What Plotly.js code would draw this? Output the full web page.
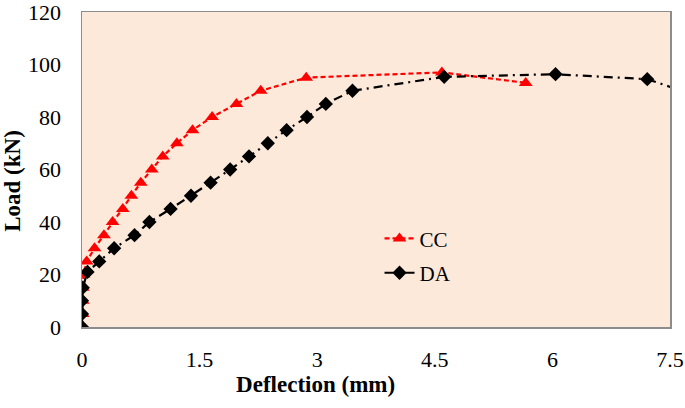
<!DOCTYPE html>
<html>
<head>
<meta charset="utf-8">
<script src="https://cdn.plot.ly/plotly-3.0.1.min.js"></script>
<style>html,body{margin:0;padding:0;background:#fff;}#chart{width:685px;height:408px;}</style>
</head>
<body>
<div id="chart"></div>
<script>
const ccDeflection = [0, 0.01, 0.01, 0.01, 0.02, 0.06, 0.16, 0.28, 0.39, 0.52, 0.63, 0.75, 0.89, 1.03, 1.21, 1.41, 1.66, 1.97, 2.28, 2.86, 4.59, 5.66];
const ccLoad = [0, 5, 10, 15, 20, 25, 30, 35, 40, 45, 50, 55, 60, 65, 70, 75, 80, 85, 90, 95, 97, 93];
const daDeflection = [0, 0, 0, 0.01, 0.07, 0.22, 0.41, 0.67, 0.86, 1.13, 1.39, 1.64, 1.89, 2.13, 2.37, 2.61, 2.87, 3.11, 3.45, 4.62, 6.04, 7.21];
const daLoad = [0, 5, 10, 15, 21, 25, 30, 35, 40, 45, 50, 55, 60, 65, 70, 75, 80, 85, 90, 95.3, 96.3, 94.4];
const daTailDeflection = [7.21, 7.7];
const daTailLoad = [94.4, 89.5];
const xTicks = [0, 1.5, 3, 4.5, 6, 7.5];
const yTicks = [0, 20, 40, 60, 80, 100, 120];

const serif = 'Liberation Serif, Times New Roman, serif';
const pad = n => '\u00a0'.repeat(n);
const traces = [
  {x: ccDeflection, y: ccLoad, name: 'CC', legendgroup: 'cc', mode: 'lines+markers',
   line: {color: '#ff0000', dash: '5px,3px', width: 2.2},
   marker: {symbol: 'triangle-up', size: 12, color: '#ff0000'}},
  {x: daDeflection, y: daLoad, name: 'DA', legendgroup: 'da', mode: 'lines+markers',
   line: {color: '#000000', dash: '9px,5px,2px,5px', width: 2.2},
   marker: {symbol: 'diamond', size: 11, color: '#000000'}},
  {x: daTailDeflection, y: daTailLoad, mode: 'lines', showlegend: false, hoverinfo: 'skip',
   line: {color: '#000000', dash: '9px,5px,2px,5px', width: 2.2}}
];
const layout = {
  width: 685, height: 408,
  margin: {l: 82, r: 15, t: 12, b: 81},
  paper_bgcolor: '#ffffff', plot_bgcolor: '#fce9da',
  showlegend: true,
  legend: {x: 0.506, y: 0.345, xanchor: 'left', yanchor: 'top', bgcolor: 'rgba(0,0,0,0)',
           font: {family: serif, size: 21, color: '#000'}, traceorder: 'grouped', tracegroupgap: 4},
  xaxis: {range: [0, 7.5], tickvals: xTicks, ticktext: xTicks.map(String),
          showgrid: false, zeroline: false, showline: true, mirror: true,
          linecolor: '#8c8c8c', linewidth: 1.5, ticks: 'outside', ticklen: 12, tickcolor: 'rgba(0,0,0,0)',
          ticklabeloverflow: 'allow',
          tickfont: {family: serif, size: 22, color: '#000'},
          title: {text: '<b>Deflection (mm)' + pad(21) + '</b>', font: {family: serif, size: 23, color: '#000'}, standoff: 4}},
  yaxis: {range: [0, 120], tickvals: yTicks, ticktext: yTicks.map(String),
          showgrid: false, zeroline: false, showline: true, mirror: true,
          linecolor: '#8c8c8c', linewidth: 1.5, ticks: 'outside', ticklen: 15, tickcolor: 'rgba(0,0,0,0)',
          ticklabeloverflow: 'allow',
          tickfont: {family: serif, size: 22, color: '#000'},
          title: {text: '<b>Load (kN)' + pad(4) + '</b>', font: {family: serif, size: 23, color: '#000'}, standoff: 2}}
};
Plotly.newPlot('chart', traces, layout, {displayModeBar: false, staticPlot: true});
</script>
</body>
</html>
